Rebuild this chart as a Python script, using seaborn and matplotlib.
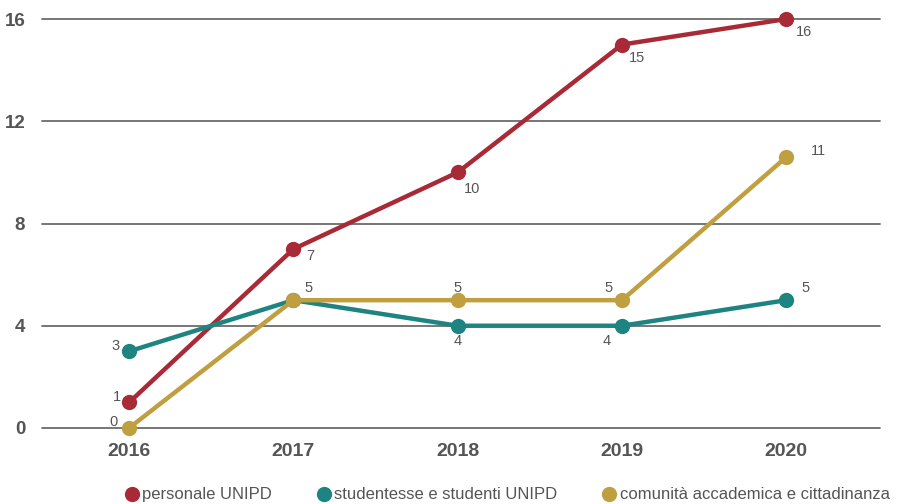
import matplotlib
matplotlib.use("Agg")
import matplotlib.pyplot as plt
from matplotlib.lines import Line2D
import seaborn as sns
import pandas as pd

anni = [2016, 2017, 2018, 2019, 2020]
personale = [1, 7, 10, 15, 16]
studenti = [3, 5, 4, 4, 5]
comunita = [0, 5, 5, 5, 10.6]
serie = ["personale UNIPD", "studentesse e studenti UNIPD",
         "comunità accademica e cittadinanza"]
y_ticks = [0, 4, 8, 12, 16]

colori = ["#A82A36", "#1E8482", "#C09F41"]

# label offsets (points) for each series / year; None = no label
offsets = {
    serie[0]: [(-9, 4), (12, -5), (10, -12), (11, -10), (13, -9)],
    serie[1]: [(-10, 4), None, (0, -11), (-11, -11), (14, 9)],
    serie[2]: [(-11, 4), (11, 9), (0, 9), (-10, 9), (23, 4)],
}

df = pd.DataFrame({
    "anno": anni * 3,
    "valore": personale + studenti + comunita,
    "serie": [serie[0]] * 5 + [serie[1]] * 5 + [serie[2]] * 5,
})

sns.set_theme(style="white")
plt.rcParams["font.family"] = ["Liberation Sans", "DejaVu Sans"]

fig = plt.figure(figsize=(9.07, 5.04), dpi=100)
ax = fig.add_axes([42 / 907, 76 / 504, 838 / 907, 409 / 504])

for y in y_ticks:
    ax.axhline(y, color="#6b6b6b", lw=1.3, zorder=0)

sns.lineplot(data=df, x="anno", y="valore", hue="serie", hue_order=serie,
             palette=colori, marker="o", markersize=11, markeredgewidth=0,
             linewidth=3.2, ax=ax, legend=False)
for ln in ax.lines:
    ln.set_clip_on(False)

for nome, vals in zip(serie, [personale, studenti, comunita]):
    for x, v, off in zip(anni, vals, offsets[nome]):
        if off is None:
            continue
        ax.annotate(f"{v:.0f}", (x, v), xytext=off, textcoords="offset points",
                    ha="center", va="center", fontsize=10.5, color="#555555")

ax.set_xlim(2015.47, 2020.57)
ax.set_ylim(0, 16)
ax.set_xticks(anni)
ax.set_xticklabels([str(a) for a in anni], fontsize=14, fontweight="bold", color="#555555")
ax.set_yticks(y_ticks)
ax.set_yticklabels([str(y) for y in y_ticks], fontsize=13.5, fontweight="bold", color="#555555")
ax.tick_params(axis="x", length=0, pad=11)
ax.tick_params(axis="y", length=0, pad=12)
for s in ax.spines.values():
    s.set_visible(False)
ax.set_xlabel("")
ax.set_ylabel("")

handles = [Line2D([], [], marker="o", ls="", color=c, markersize=11, markeredgewidth=0)
           for c in colori]
fig.legend(handles, serie, loc="center", bbox_to_anchor=(0.5585, 0.018), ncol=3,
           frameon=False, fontsize=12, handlelength=1.0, handletextpad=0.12,
           columnspacing=2.63, labelcolor="#555555")

fig.savefig("out.png", dpi=100)
